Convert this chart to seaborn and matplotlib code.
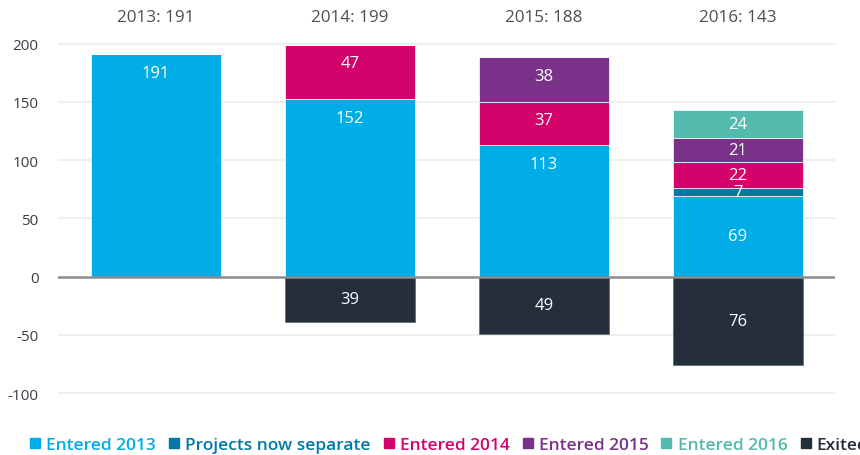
import matplotlib
matplotlib.use("Agg")
import matplotlib.pyplot as plt
import matplotlib.transforms as mtransforms
from matplotlib.lines import Line2D
import seaborn as sns
import numpy as np

years = ["2013", "2014", "2015", "2016"]
totals = [191, 199, 188, 143]
series_names = ["Entered 2013", "Projects now separate", "Entered 2014",
                "Entered 2015", "Entered 2016", "Exited"]
entered_2013 = [191, 152, 113, 69]
projects_separate = [0, 0, 0, 7]
entered_2014 = [0, 47, 37, 22]
entered_2015 = [0, 0, 38, 21]
entered_2016 = [0, 0, 0, 24]
exited = [0, -39, -49, -76]
colors = ["#00ADE6", "#0079A6", "#D4036C", "#7A3189", "#52BBAD", "#252F3B"]
yticks = [-100, -50, 0, 50, 100, 150, 200]

sns.set_theme(style="white")
plt.rcParams["font.family"] = ["Open Sans", "DejaVu Sans"]

fig = plt.figure(figsize=(8.6, 4.56), dpi=100)
ylim = (-105, 210)
scale = 1.166
zero_px = 277.7
top_px = zero_px - ylim[1] * scale
bot_px = zero_px - ylim[0] * scale
ax = fig.add_axes([58 / 860, 1 - bot_px / 456, (835 - 58) / 860, (bot_px - top_px) / 456])

for t in yticks:
    if t == 0:
        continue
    ax.axhline(t, color="#efefef", lw=1.5, zorder=0)

all_series = [entered_2013, projects_separate, entered_2014, entered_2015, entered_2016, exited]
pos_bottom = np.zeros(len(years))
label_items = []
for name, vals, col in zip(series_names, all_series, colors):
    vals = np.array(vals, dtype=float)
    if name == "Exited":
        bottoms = np.zeros(len(years))
        edge = "#5b6570"
    else:
        bottoms = pos_bottom.copy()
        edge = "#ffffff"
    sns.barplot(x=years, y=vals, bottom=bottoms, color=col, width=0.67,
                order=years, ax=ax, edgecolor=edge, linewidth=0.5,
                saturation=1, zorder=2)
    for i, v in enumerate(vals):
        if v == 0:
            continue
        if v > 0 and i < 3:
            ly = bottoms[i] + v - 16
        else:
            ly = bottoms[i] + v / 2
        label_items.append((i, ly, f"{abs(int(v))}"))
    if name != "Exited":
        pos_bottom += vals

for i, ly, txt in label_items:
    ax.text(i, ly, txt, ha="center", va="center", color="white",
            fontsize=12, zorder=5)

ax.axhline(0, color="#8c8c8c", lw=1.8, zorder=3)

ax.set_xlim(-0.505, 3.5)
ax.set_ylim(*ylim)
ax.set_yticks(yticks)
ax.set_yticklabels([str(t) for t in yticks], fontsize=11, color="#3a3f45")
ax.tick_params(axis="y", length=0, pad=14)
ax.set_xticks([])
ax.set_xlabel("")
ax.set_ylabel("")
for s in ax.spines.values():
    s.set_visible(False)

trans = mtransforms.blended_transform_factory(ax.transData, fig.transFigure)
for i, (yr, tot) in enumerate(zip(years, totals)):
    ax.text(i, 1 - 17.5 / 456, f"{yr}: {tot}", transform=trans,
            ha="center", va="center", fontsize=12.3, color="#4b5057")

handles = [Line2D([0], [0], marker="s", linestyle="none", markersize=7.5,
                  markerfacecolor=c, markeredgecolor=c) for c in colors]
leg = fig.legend(handles, series_names, loc="center left",
                 bbox_to_anchor=(29 / 860, 10 / 456), ncol=6, frameon=False,
                 handlelength=0.7, handletextpad=0.3, columnspacing=0.68,
                 borderpad=0, borderaxespad=0,
                 prop={"size": 12.5, "weight": "semibold"})
for txt, c in zip(leg.get_texts(), colors):
    txt.set_color(c)

fig.savefig("out.png", dpi=100)
